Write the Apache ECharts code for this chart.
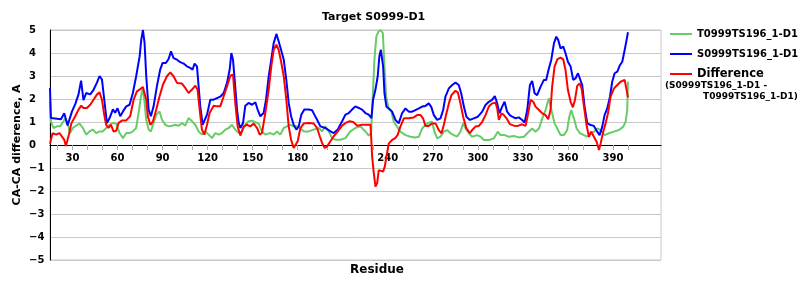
<!DOCTYPE html>
<html>
<head>
<meta charset="utf-8">
<script src="https://cdn.jsdelivr.net/npm/echarts@6/dist/echarts.min.js"></script>
<style>html,body{margin:0;padding:0;background:#fff}#c{width:800px;height:300px}</style>
</head>
<body>
<div id="c"></div>
<script>
const chartTitle = 'Target S0999-D1';
const xAxisTitle = 'Residue';
const yAxisTitle = 'CA-CA difference, A';
const seriesNames = ['T0999TS196_1-D1', 'S0999TS196_1-D1', 'Difference'];
const diffNoteLines = ['(S0999TS196_1-D1 -', 'T0999TS196_1-D1)'];
const tickResidues = [20,30,40,50,60,70,80,90,100,110,120,130,140,150,160,170,180,190,200,210,220,230,240,250,260,270,280,290,300,310,320,330,340,350,360,370,380,390,400];
const labelResidues = [30,60,90,120,150,180,210,240,270,300,330,360,390];

// [residue, CA-CA difference]
const targetPoints = [[15,1.9],[15.6,1.03],[17.3,0.74],[19.6,0.81],[21.8,0.81],[24,1.03],[25.1,1.17],[26.7,0.96],[28.4,0.52],[30.2,0.74],[32.4,0.84],[34.7,0.93],[36.9,0.74],[39.1,0.45],[41.3,0.59],[43.6,0.67],[45.8,0.52],[48,0.59],[50.2,0.59],[52.4,0.74],[54.7,0.88],[56.9,0.96],[59.1,0.93],[61.3,0.52],[63.6,0.3],[65.8,0.52],[68,0.52],[70.2,0.59],[72.4,0.74],[74,1.39],[75.6,2.12],[76.7,2.43],[77.8,1.97],[79.1,1.1],[80.7,0.67],[82.2,0.59],[84,0.96],[85.8,1.32],[88,1.46],[89.6,1.1],[91.8,0.88],[94,0.81],[96.2,0.84],[98.4,0.88],[100.7,0.84],[102.9,0.96],[105.1,0.84],[107.3,1.17],[109.6,1.03],[111.8,0.88],[114,0.59],[116.2,0.45],[118.4,0.59],[120.7,0.45],[122.9,0.3],[125.1,0.52],[127.3,0.45],[129.6,0.52],[131.8,0.67],[134,0.74],[136.2,0.88],[138.4,0.67],[140.7,0.52],[142.9,0.59],[145.1,0.88],[147.3,1.03],[149.6,1.06],[151.8,0.99],[154,0.93],[156.2,0.59],[158.4,0.45],[161.8,0.52],[164,0.45],[166.2,0.59],[168.4,0.45],[170.7,0.74],[172.9,0.81],[175.1,0.88],[177.3,0.81],[179.6,0.81],[181.8,0.74],[184,0.59],[187.3,0.59],[190.7,0.67],[194,0.74],[196.2,0.59],[198.4,0.81],[200.7,0.59],[202.9,0.3],[205.1,0.23],[208.4,0.23],[211.8,0.3],[215.1,0.59],[218.4,0.74],[221.8,0.81],[225.1,0.59],[227.3,0.41],[228.9,0.52],[230,2.12],[231.1,3.71],[232.4,4.72],[233.9,4.94],[235.3,5.0],[236.7,4.87],[237.8,3.42],[238.9,2.12],[240.7,1.54],[242.2,1.5],[244,1.01],[246.2,0.8],[248.4,0.58],[251.8,0.43],[255.1,0.36],[258.4,0.33],[260.7,0.36],[262.9,0.72],[265.1,0.87],[267.3,0.97],[269.5,1.01],[271.1,0.58],[272.9,0.29],[275.1,0.36],[277.3,0.58],[279.5,0.65],[281.8,0.51],[284,0.43],[286.2,0.36],[288.4,0.58],[290.2,0.94],[291.8,0.72],[294,0.51],[296.2,0.36],[299.5,0.43],[301.8,0.36],[304,0.22],[307.3,0.22],[310.7,0.29],[313.3,0.58],[315.1,0.43],[317.8,0.43],[320.7,0.36],[324,0.39],[327.3,0.33],[330.7,0.36],[332.9,0.51],[336.2,0.72],[338.4,0.58],[340.7,0.72],[342.9,1.16],[345.1,1.52],[347.3,2.03],[348.4,2.1],[349.5,1.38],[351.1,0.94],[352.9,0.72],[355.1,0.43],[357.3,0.43],[359.5,0.65],[360.7,1.16],[362.2,1.52],[364,1.16],[365.8,0.72],[368,0.51],[370.7,0.43],[372.9,0.36],[375.1,0.51],[377.3,0.58],[379.5,0.72],[381.8,0.65],[384.4,0.43],[387.3,0.51],[390.6,0.58],[394,0.65],[396.9,0.8],[398.4,1.01],[399.5,1.52],[400,2.75]];

const modelPoints = [[15,2.48],[15.6,1.17],[18.4,1.15],[22.3,1.12],[24.5,1.38],[26.7,0.85],[29.6,1.45],[31.8,1.78],[34,2.2],[35.7,2.8],[37.3,1.95],[39.1,2.26],[41.8,2.2],[44,2.4],[46.2,2.7],[48,3.0],[49.6,2.85],[51.1,2.0],[52.9,0.95],[54.7,1.17],[56.9,1.55],[58.4,1.4],[60,1.6],[61.8,1.25],[63.6,1.46],[65.8,1.68],[68,1.75],[70.2,2.26],[72.4,2.99],[74.7,3.85],[75.8,4.58],[76.9,5.0],[78,4.43],[79.1,3.0],[80.7,1.54],[82.2,1.25],[84,1.68],[86.2,2.55],[88.4,3.28],[90,3.57],[92.2,3.57],[94,3.74],[95.6,4.07],[97.3,3.78],[99.6,3.71],[101.8,3.6],[104,3.54],[106.2,3.42],[108.4,3.35],[110,3.28],[111.3,3.54],[112.9,3.42],[114,2.55],[115.1,1.68],[116.7,0.88],[118,0.88],[119.6,1.32],[121.8,1.97],[124,1.97],[126.2,2.04],[128.4,2.1],[130.7,2.26],[132.9,2.7],[134.7,3.28],[135.8,4.0],[136.9,3.71],[138,2.84],[139.6,1.54],[140.7,0.96],[141.8,0.74],[143.6,0.96],[145.1,1.71],[147.3,1.83],[149.6,1.75],[151.8,1.86],[153.3,1.54],[155.1,1.25],[157.3,1.39],[158.9,1.97],[160.7,2.99],[162.2,3.64],[164,4.43],[165.8,4.83],[167.3,4.51],[168.9,4.14],[170.7,3.71],[172.4,2.84],[174,1.83],[175.6,1.25],[177.3,0.88],[179.1,0.67],[180.7,0.81],[182.4,1.32],[184.4,1.54],[187.3,1.54],[189.6,1.51],[191.1,1.32],[192.9,1.1],[195.1,0.81],[198.4,0.74],[201.8,0.59],[204,0.52],[206.7,0.67],[209.6,1.03],[211.8,1.32],[214,1.39],[216.2,1.54],[218.4,1.68],[220.7,1.61],[222.9,1.54],[225.1,1.39],[227.3,1.32],[229.1,1.17],[230.2,1.97],[231.8,2.41],[233.3,2.99],[234.4,3.86],[235.4,4.14],[236.9,3.41],[237.8,2.25],[239.1,1.67],[240.7,1.59],[242.9,1.45],[245.1,1.09],[247.3,0.94],[249.5,1.38],[251.8,1.59],[254,1.45],[256.2,1.45],[258.4,1.52],[260.7,1.59],[262.9,1.67],[265.1,1.7],[267.3,1.81],[268.9,1.67],[270.7,1.3],[272.9,1.09],[275.1,1.16],[276.9,1.52],[278.4,2.1],[280.7,2.46],[282.9,2.61],[285.1,2.71],[287.3,2.61],[288.9,2.25],[290.7,1.67],[292.4,1.23],[294.7,1.09],[297.3,1.16],[300,1.23],[302.9,1.45],[305.1,1.74],[307.3,1.88],[309.5,1.96],[311.3,2.13],[312.9,1.81],[314.4,1.38],[316.2,1.67],[317.8,1.88],[319.5,1.45],[321.3,1.3],[322.9,1.23],[325.1,1.16],[327.3,1.2],[329.5,1.09],[331.1,0.97],[332.9,1.52],[334.7,2.61],[336.2,2.78],[337.8,2.25],[339.5,2.17],[341.8,2.54],[344,2.83],[345.5,2.83],[347.3,3.33],[348.9,3.7],[350.7,4.42],[352.2,4.71],[353.5,4.57],[355.1,4.2],[356.9,4.28],[358.4,3.99],[360,3.62],[361.8,3.41],[363.5,2.83],[365.1,2.9],[366.7,3.12],[368,3.19],[369.5,2.61],[371.1,1.67],[372.9,0.94],[375.1,0.87],[377.3,0.83],[379.5,0.58],[381.1,0.43],[382.9,0.8],[384.4,1.3],[386.2,1.59],[388,2.1],[389.5,2.75],[391.1,3.12],[392.9,3.19],[394.7,3.48],[396.2,3.62],[397.8,4.13],[399.1,4.57],[400,4.9]];

const diffPoints = [[15,0.06],[16.7,0.51],[19.1,0.45],[21.3,0.52],[22.3,0.46],[24.5,0.22],[25.6,-0.04],[26.7,0.0],[27.6,0.46],[29.2,0.94],[31.8,1.25],[34,1.54],[35.8,1.71],[37.3,1.61],[39.6,1.61],[41.8,1.75],[44,1.97],[46.2,2.19],[48,2.29],[49.6,1.97],[51.1,1.32],[52.4,0.88],[54,0.74],[55.6,0.88],[57.3,0.59],[59.1,0.62],[60.7,0.96],[62.9,1.06],[65.8,1.07],[68.4,1.25],[70.7,1.97],[72.9,2.33],[75.1,2.43],[76.9,2.52],[78,2.48],[79.1,1.97],[80.2,1.25],[81.8,0.88],[83.6,1.03],[85.8,1.54],[88,2.12],[90.2,2.62],[92.9,2.99],[95.1,3.16],[97.3,2.99],[99.6,2.7],[102.9,2.67],[105.1,2.48],[107.3,2.26],[109.6,2.41],[111.8,2.58],[113.3,2.41],[114.7,1.54],[116.2,0.67],[117.8,0.45],[119.6,0.88],[121.3,1.39],[124,1.71],[126.2,1.68],[128.4,1.68],[130.7,2.12],[132.9,2.55],[135.1,3.01],[136.9,3.06],[138.4,1.83],[140,0.81],[141.8,0.41],[144,0.81],[146.2,0.88],[148.4,0.81],[150.7,0.93],[152.9,0.74],[154.7,0.45],[156.2,0.52],[158.4,1.39],[160.7,2.41],[162.4,3.42],[164,4.14],[165.8,4.36],[167.3,4.14],[168.9,3.64],[170.7,2.99],[172.4,1.97],[174,0.81],[175.6,0.23],[177.3,-0.13],[178.4,-0.17],[180,0.16],[181.8,0.74],[184,0.93],[187.3,0.96],[190.7,0.93],[192.9,0.74],[194.7,0.38],[196.2,0.09],[198,-0.13],[199.6,-0.06],[201.8,0.16],[204,0.38],[206.7,0.59],[209.6,0.84],[211.8,0.96],[214.7,1.03],[217.3,0.99],[219.6,0.84],[222.9,0.88],[226.2,0.88],[228.5,0.88],[229.6,-0.51],[230.7,-1.23],[231.8,-1.81],[232.9,-1.67],[234,-1.09],[235.1,-1.09],[236.9,-1.16],[238,-0.94],[239.1,-0.51],[240.7,0.07],[242.9,0.22],[245,0.3],[246.5,0.43],[248.4,0.8],[250.7,1.16],[254,1.16],[257.3,1.2],[259.5,1.3],[261.8,1.3],[263.5,1.16],[265.1,0.83],[267.3,0.83],[269.5,0.94],[271.8,0.94],[274,0.65],[275.8,0.51],[277.3,0.87],[279.1,1.38],[280.7,1.81],[282.4,2.17],[285.1,2.36],[286.7,2.28],[288.4,1.81],[290.2,1.23],[292.4,0.72],[294.7,0.51],[296.2,0.65],[298.4,0.8],[300.7,0.83],[302.9,1.01],[305.1,1.3],[307.3,1.67],[309.5,1.81],[311.8,1.84],[312.9,1.59],[314,1.09],[315.8,1.38],[317.3,1.3],[319.1,1.16],[321.3,0.91],[324,0.84],[326.7,0.83],[329.5,0.9],[331.8,0.83],[333.3,1.3],[335.1,1.96],[336.9,1.88],[338.4,1.67],[340.7,1.52],[342.9,1.38],[345.1,1.3],[346.9,1.12],[348.4,1.52],[349.5,2.54],[351.1,3.41],[352.9,3.72],[355.1,3.8],[356.9,3.72],[358.4,3.26],[360,2.39],[361.8,1.88],[363.3,1.64],[364.7,1.96],[366.2,2.57],[367.8,2.68],[369.1,2.46],[370.7,1.67],[372.4,0.87],[374,0.36],[375.5,0.58],[377.3,0.36],[379.1,0.14],[380.7,-0.22],[381.8,0.07],[383.5,0.58],[385.1,0.94],[386.7,1.38],[388.4,2.1],[390.7,2.46],[392.9,2.61],[395.1,2.75],[397.8,2.83],[399.1,2.75],[400,2.07]];

const FONT = '"DejaVu Sans", Verdana, sans-serif';
const chart = echarts.init(document.getElementById('c'), null, {renderer: 'canvas'});

function lineSeries(name, data, color) {
  return {
    name: name, type: 'line', data: data, symbol: 'none', showSymbol: false,
    lineStyle: {color: color, width: 2}, itemStyle: {color: color},
    emphasis: {disabled: true}, animation: false
  };
}

chart.setOption({
  animation: false,
  title: {
    text: chartTitle, left: 317, top: 7,
    textStyle: {fontFamily: FONT, fontWeight: 'bold', fontSize: 11, color: '#000'}
  },
  grid: {left: 50, right: 139, top: 30, bottom: 40, show: true, borderColor: '#c8c8c8', borderWidth: 1,
         containLabel: false, outerBoundsMode: 'none'},
  legend: {
    orient: 'vertical', left: 665, top: 23, itemWidth: 22, itemHeight: 2, itemGap: 8, icon: 'rect',
    textStyle: {fontFamily: FONT, fontWeight: 'bold', fontSize: 10, color: '#000', lineHeight: 12},
    data: [
      {name: seriesNames[0]},
      {name: seriesNames[1]},
      {name: seriesNames[2], textStyle: {fontSize: 11.5}}
    ],
    selectedMode: false
  },
  graphic: [
    {type: 'text', left: 665, top: 81, style: {text: diffNoteLines[0], font: 'bold 9px ' + FONT, fill: '#000'}},
    {type: 'text', left: 703, top: 92, style: {text: diffNoteLines[1], font: 'bold 9px ' + FONT, fill: '#000'}},
    {type: 'text', left: 350, top: 264, style: {text: xAxisTitle, font: 'bold 12px ' + FONT, fill: '#000'}}
  ],
  xAxis: {
    type: 'value', min: 15, max: 422, position: 'bottom', offset: -115,
    axisLine: {onZero: false, lineStyle: {color: '#000', width: 1}},
    axisTick: {show: true, customValues: tickResidues, length: 5, lineStyle: {color: '#aaa'}},
    axisLabel: {customValues: labelResidues, margin: 8, fontFamily: FONT, fontWeight: 'bold', fontSize: 10, color: '#000'},
    splitLine: {show: false}
  },
  yAxis: {
    type: 'value', min: -5, max: 5, interval: 1,
    name: yAxisTitle, nameLocation: 'middle', nameGap: 27, nameRotate: 90, nameMoveOverlap: false,
    nameTextStyle: {fontFamily: FONT, fontWeight: 'bold', fontSize: 11, color: '#000'},
    axisLine: {show: true, lineStyle: {color: '#000', width: 1}},
    axisTick: {show: false},
    axisLabel: {
      align: 'left', margin: 21, fontFamily: FONT, fontWeight: 'bold', fontSize: 10, color: '#000',
      formatter: v => String(v).replace('-', '\u2212')
    },
    splitLine: {show: true, lineStyle: {color: '#c8c8c8', width: 1}}
  },
  series: [
    lineSeries(seriesNames[0], targetPoints, '#66cc66'),
    lineSeries(seriesNames[1], modelPoints, '#0000ff'),
    lineSeries(seriesNames[2], diffPoints, '#ff0000')
  ]
});
</script>
</body>
</html>
